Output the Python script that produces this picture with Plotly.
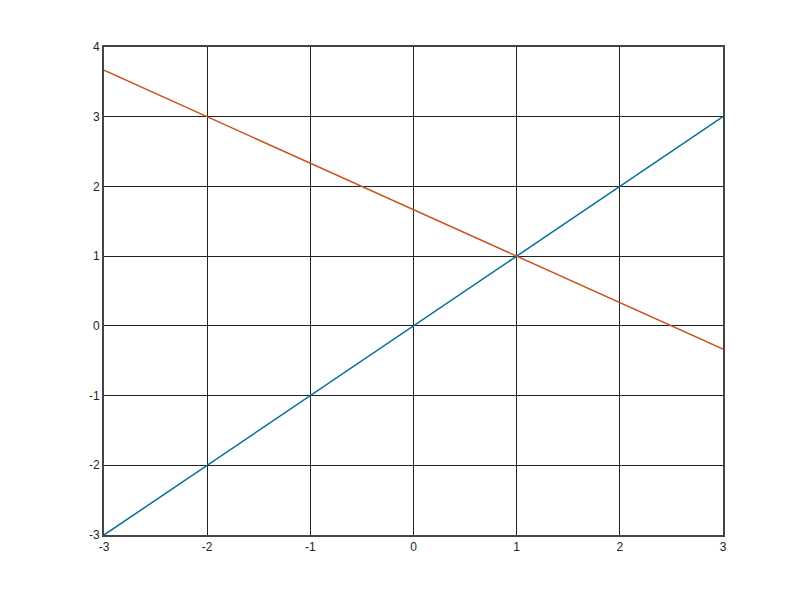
import plotly.graph_objects as go

x_vals = [-3, -2, -1, 0, 1, 2, 3]
line1_y = [-3, -2, -1, 0, 1, 2, 3]
line2_x = [-3, 3]
line2_y = [3.6667, -0.3333]
x_ticks = [-3, -2, -1, 0, 1, 2, 3]
y_ticks = [-3, -2, -1, 0, 1, 2, 3, 4]

fig = go.Figure()
fig.add_trace(go.Scatter(x=x_vals, y=line1_y, mode="lines",
                         line=dict(color="#066D9E", width=1.5), showlegend=False))
fig.add_trace(go.Scatter(x=line2_x, y=line2_y, mode="lines",
                         line=dict(color="#C9541C", width=1.5), showlegend=False))

axis_common = dict(showgrid=True, gridcolor="#222222", gridwidth=1,
                   showline=True, linecolor="#444444", linewidth=2, mirror=True,
                   zeroline=False, ticks="", tickfont=dict(family="Liberation Sans, Arial", size=12, color="#222222"))
fig.update_xaxes(range=[-3, 3], tickvals=x_ticks, ticktext=[str(v) for v in x_ticks], **axis_common)
fig.update_yaxes(range=[-3, 4], tickvals=y_ticks, ticktext=[str(v) for v in y_ticks], **axis_common)

fig.update_layout(width=800, height=600, plot_bgcolor="white", paper_bgcolor="white",
                  margin=dict(l=96, r=85, t=39, b=73))
fig.write_html("out.html")
